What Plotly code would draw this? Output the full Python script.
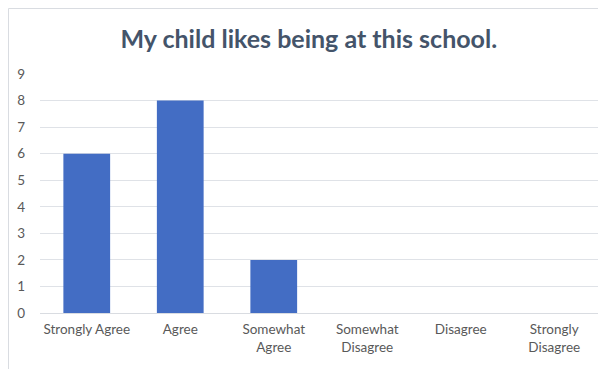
import plotly.graph_objects as go

categories = ["Strongly Agree", "Agree", "Somewhat<br>Agree", "Somewhat<br>Disagree", "Disagree", "Strongly<br>Disagree"]
values = [6, 8, 2, 0, 0, 0]
y_ticks = [0, 1, 2, 3, 4, 5, 6, 7, 8, 9]
title_text = "My child likes being at this school."

fig = go.Figure()
fig.add_trace(go.Bar(
    x=categories, y=values, width=0.5,
    marker=dict(color="#436DC4", line=dict(width=0)),
    hoverinfo="x+y",
))

fig.update_layout(
    width=598, height=361,
    margin=dict(l=32, r=5, t=66, b=56, autoexpand=False),
    paper_bgcolor="white", plot_bgcolor="white",
    title=dict(text=title_text, x=0.503, xanchor="center", y=1 - 31 / 361, yanchor="middle",
               font=dict(family="Lato", size=25, color="#44546A", weight="bold")),
    showlegend=False,
    font=dict(family="Lato", color="#595959", size=13),
    bargap=0.5,
)
fig.update_xaxes(
    showgrid=False, showline=True, linecolor="#D9DCE1", linewidth=1,
    ticks="", tickfont=dict(size=13.5, color="#595959"), ticklabelstandoff=4,
)
fig.update_yaxes(
    range=[0, 9], tickvals=y_ticks, showgrid=True, gridcolor="#DFE2E7", gridwidth=1,
    zeroline=False, showline=False, ticks="", ticklabelstandoff=14,
    tickfont=dict(size=13.5, color="#595959"),
)
fig.add_shape(type="rect", xref="paper", yref="paper",
              x0=-31.5 / 561, x1=1.2, y0=-0.5, y1=1 + 65.5 / 239,
              line=dict(color="#D9DCE1", width=1), fillcolor="rgba(0,0,0,0)", layer="below")

fig.write_html("out.html")
